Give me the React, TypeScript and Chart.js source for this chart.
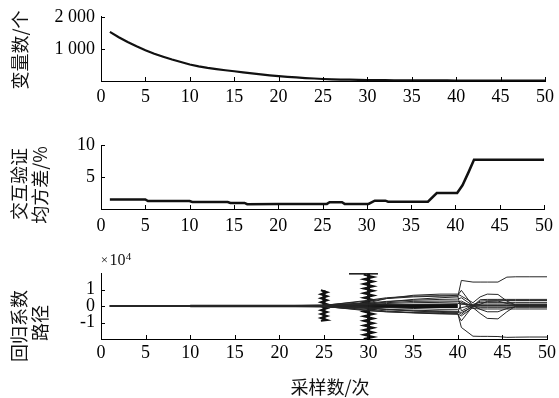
import React, { useEffect, useRef } from "react";
import { Chart, registerables } from "chart.js";
Chart.register(...registerables);

// ---------- shared axis ----------
const X_MIN = 0;
const X_MAX = 50;
const X_STEP = 5;

// ---------- panel 1: number of variables ----------
const VAR_X = [1,2,3,4,5,6,7,8,9,10,11,12,13,14,15,16,17,18,19,20,21,22,23,24,25,26,27,28,29,30,31,32,33,34,35,36,37,38,39,40,41,42,43,44,45,46,47,48,49,50];
const VAR_COUNT = [1530,1365,1215,1080,955,850,757,670,590,515,458,410,370,335,303,268,235,205,176,150,128,110,92,78,62,52,45,40,35,30,28,26,24,22,21,20,19,18,17,16,15,14,14,13,13,12,12,11,11,10];
const VAR_Y_TICKS = [1000, 2000];
const VAR_Y_LABELS = ["1 000", "2 000"];

// ---------- panel 2: cross-validation MSE (%) ----------
const MSE_X = [1,5,5.3,10,10.3,14.3,14.6,16.2,16.5,20,25.5,25.8,27.2,27.5,30.2,30.9,32.1,32.4,36.9,37.9,40.2,40.8,41.5,42.1,50];
const MSE_Y = [1.5,1.5,1.25,1.25,1.1,1.1,0.95,0.95,0.75,0.8,0.8,1.05,1.05,0.8,0.8,1.3,1.3,1.15,1.15,2.5,2.5,3.7,5.8,7.7,7.7];
const MSE_Y_TICKS = [5, 10];
const MSE_Y_LABELS = ["5", "10"];

// ---------- panel 3: regression coefficient paths (x10^4) ----------
const PATH_X = [1,5,10,12,15,20,25,30,32,35,38,40,40.4,41.7,42.5,43.3,44.5,45.5,46.5,48,50];
const PATH_A = [0,0,0,0,0,0.01,0.03,0.1,0.25,0.4,0.5,0.55,1.55,1.45,1.45,1.45,1.45,1.75,1.77,1.77,1.77];
const PATH_B = [0,0,0,0,0,-0.01,-0.03,-0.1,-0.2,-0.3,-0.38,-0.45,-1.3,-1.83,-1.84,-1.84,-1.85,-1.9,-1.89,-1.88,-1.88];
const PATH_C = [0,0,0,0.01,0.01,0.02,0.05,0.2,0.45,0.65,0.72,0.72,0.6,0.2,0.55,0.72,0.7,0.3,0.05,0.05,0.05];
const PATH_D = [0,0,0,-0.01,-0.01,-0.02,-0.05,-0.2,-0.3,-0.4,-0.45,-0.48,-0.6,-0.1,-0.45,-0.75,-0.78,-0.35,0,0,0];
const PATH_E = [0,0,0,0,0,0.01,0.05,0.3,0.45,0.55,0.6,0.65,0.95,0,0.38,0.4,0.4,0.4,0.4,0.4,0.4];
const PATH_F = [0,0,0,0,0,-0.01,-0.04,-0.25,-0.35,-0.42,-0.48,-0.5,-0.9,0,0.3,0.32,0.32,0.33,0.33,0.33,0.33];
const PATH_G = [0,0,0,0.02,0.01,0.01,0.03,0.15,0.2,0.28,0.3,0.3,0.1,0.1,0.22,0.22,0.22,0.22,0.22,0.22,0.22];
const PATH_H = [0,0,0.03,0,0.01,0.01,0.02,-0.05,-0.1,-0.15,-0.2,-0.2,-0.1,0.05,0.12,0.12,0.12,0.12,0.12,0.12,0.12];
const PATH_I = [0,0,-0.02,0,-0.02,-0.01,-0.03,-0.15,-0.2,-0.25,-0.3,-0.32,-0.4,-0.05,0.02,0.02,0.02,0.02,0.02,0.02,0.02];
const PATH_J = [0,0,0,0,0,0.01,0.02,0.1,0.15,0.2,0.22,0.25,0.3,-0.05,-0.08,-0.08,-0.08,-0.08,-0.08,-0.08,-0.08];
const PATH_K = [0,0,0,0,0,-0.01,-0.02,-0.3,-0.35,-0.4,-0.42,-0.4,0.2,-0.15,-0.18,-0.18,-0.18,-0.18,-0.18,-0.18,-0.18];
const PATH_L = [0,0,0,0,0,0.01,0.03,0.35,0.5,0.6,0.62,0.6,-0.3,0.05,0.05,0.05,0.05,0.05,0.05,0.05,0.05];
const PATH_M = [0,0,0,0,0,0.01,0.02,0.18,0.28,0.35,0.4,0.42,0.5,0.02,0.1,0.28,0.3,0.15,0.08,0.08,0.08];
const PATH_N = [0,0,0,0,0,-0.01,-0.02,-0.12,-0.22,-0.3,-0.33,-0.36,-0.5,0.02,-0.2,-0.35,-0.35,-0.15,-0.04,-0.04,-0.04];
const PATH_O = [0,0,0,0,0,0.01,0.01,0.05,0.08,0.1,0.12,0.14,0.2,0.0,0.0,0.0,0.0,0.0,0.0,0.0,0.0];
const PATH_SERIES = [PATH_A, PATH_B, PATH_C, PATH_D, PATH_E, PATH_F, PATH_G, PATH_H, PATH_I, PATH_J, PATH_K, PATH_L, PATH_M, PATH_N, PATH_O];

// dense overlapping paths near zero (drawn as a thick core)
const CORE1_X = [1, 10];
const CORE1_Y = [0, 0];
const CORE2_X = [10, 30];
const CORE2_Y = [0, 0];
const CORE3_X = [30, 40];
const CORE3_Y = [0, 0];

const COMB25_X = [24.65,25.35,24.65,25.35,24.65,25.35,24.65,25.35,24.65,25.35,24.65,25.35,24.65,25.35,24.65,25.35,24.65];
const COMB25_Y = [0.95,0.83,0.71,0.59,0.47,0.35,0.23,0.11,-0.01,-0.13,-0.25,-0.37,-0.49,-0.61,-0.73,-0.85,-0.9];
const STEM25_X = [25, 25];
const STEM25_Y = [0.95, -0.9];
const COMB30_X = [29.45,30.55,29.45,30.55,29.45,30.55,29.45,30.55,29.45,30.55,29.45,30.55,29.45,30.55,29.45,30.55,29.45,30.55,29.45,30.55,29.45,30.55,29.45,30.55,29.45,30.55,29.45,30.55,29.45];
const COMB30_Y = [1.9,1.76,1.62,1.48,1.34,1.2,1.06,0.92,0.78,0.64,0.5,0.36,0.22,0.08,-0.06,-0.2,-0.34,-0.48,-0.62,-0.76,-0.9,-1.04,-1.18,-1.32,-1.46,-1.6,-1.74,-1.88,-2.0];
const STEM30_X = [30, 30];
const STEM30_Y = [1.95, -2.0];
const BAR30_X = [27.8, 31.05];
const BAR30_Y = [1.95, 1.95];
const COEF_Y_TICKS = [-1, 0, 1];
const COEF_Y_LABELS = ["-1", "0", "1"];

// ---------- styling ----------
const W = 559;
const SERIF = '"Liberation Serif", "Times New Roman", serif';
const CJK = '"Noto Sans CJK SC", sans-serif';
const TICK_FONT = { family: SERIF, size: 18 };

const pts = (xs: number[], ys: number[]) => xs.map((x, i) => ({ x, y: ys[i] }));

type TextItem = { text: string; x: number; y: number; font: string; rotate?: boolean; align?: CanvasTextAlign };

const makeTextPlugin = (items: TextItem[]) => ({
  id: "panelText",
  afterDraw(chart: any) {
    const ctx = chart.ctx;
    ctx.save();
    ctx.fillStyle = "#111";
    for (const it of items) {
      ctx.save();
      ctx.font = it.font;
      ctx.textAlign = it.align || "center";
      ctx.textBaseline = "middle";
      ctx.translate(it.x, it.y);
      if (it.rotate) ctx.rotate(-Math.PI / 2);
      ctx.fillText(it.text, 0, 0);
      ctx.restore();
    }
    ctx.restore();
  },
});

const innerTicks = {
  id: "innerTicks",
  afterDraw(chart: any) {
    const { ctx, chartArea } = chart;
    const xs = chart.scales.x;
    const ys = chart.scales.y;
    ctx.save();
    ctx.strokeStyle = "#000";
    ctx.lineWidth = 1;
    ctx.beginPath();
    xs.ticks.forEach((t: any) => {
      const px = Math.round(xs.getPixelForValue(t.value)) + 0.5;
      ctx.moveTo(px, chartArea.bottom);
      ctx.lineTo(px, chartArea.bottom - 4);
    });
    ys.ticks.forEach((t: any) => {
      const py = Math.round(ys.getPixelForValue(t.value)) + 0.5;
      ctx.moveTo(chartArea.left, py);
      ctx.lineTo(chartArea.left + 4, py);
    });
    ctx.stroke();
    ctx.restore();
  },
};

function makeOptions(o: {
  padTop: number;
  xHeight: number;
  xPad: number;
  yMin: number;
  yMax: number;
  yTicks: number[];
  yLabels: string[];
}) {
  return {
    responsive: false,
    maintainAspectRatio: false,
    animation: false,
    layout: { padding: { top: o.padTop, right: W - 547, left: 0, bottom: 0 } },
    plugins: { legend: { display: false }, tooltip: { enabled: false } },
    elements: { point: { radius: 0 }, line: { tension: 0 } },
    scales: {
      x: {
        type: "linear",
        min: X_MIN,
        max: X_MAX,
        ticks: { stepSize: X_STEP, font: TICK_FONT, color: "#000", padding: o.xPad, maxRotation: 0, autoSkip: false },
        grid: { display: false, drawTicks: false },
        border: { display: true, color: "#000", width: 1 },
        afterFit: (s: any) => {
          s.height = o.xHeight;
        },
      },
      y: {
        type: "linear",
        min: o.yMin,
        max: o.yMax,
        afterBuildTicks: (s: any) => {
          s.ticks = o.yTicks.map((v) => ({ value: v }));
        },
        ticks: {
          font: TICK_FONT,
          color: "#000",
          padding: 6,
          callback: (_v: any, i: number) => o.yLabels[i],
        },
        grid: { display: false, drawTicks: false },
        border: { display: true, color: "#000", width: 1 },
        afterFit: (s: any) => {
          s.width = 101;
        },
      },
    },
  };
}

const line = (xs: number[], ys: number[], width: number, color = "#111") => ({
  data: pts(xs, ys),
  borderColor: color,
  borderWidth: width,
  pointRadius: 0,
  fill: false,
});

export default function App() {
  const c1 = useRef<HTMLCanvasElement>(null);
  const c2 = useRef<HTMLCanvasElement>(null);
  const c3 = useRef<HTMLCanvasElement>(null);

  useEffect(() => {
    const charts: Chart[] = [];
    const cjk18 = `18px ${CJK}`;

    charts.push(
      new Chart(c1.current!, {
        type: "line",
        data: { datasets: [line(VAR_X, VAR_COUNT, 2.2)] },
        options: makeOptions({ padTop: 15, xHeight: 110 - 81, xPad: 5, yMin: 0, yMax: 2000, yTicks: VAR_Y_TICKS, yLabels: VAR_Y_LABELS }) as any,
        plugins: [innerTicks, makeTextPlugin([{ text: "变量数/个", x: 20, y: 50, font: cjk18, rotate: true }])],
      })
    );

    charts.push(
      new Chart(c2.current!, {
        type: "line",
        data: { datasets: [line(MSE_X, MSE_Y, 2.5)] },
        options: makeOptions({ padTop: 25, xHeight: 125 - 89, xPad: 6, yMin: 0, yMax: 10, yTicks: MSE_Y_TICKS, yLabels: MSE_Y_LABELS }) as any,
        plugins: [
          innerTicks,
          makeTextPlugin([
            { text: "交互验证", x: 19, y: 64, font: cjk18, rotate: true },
            { text: "均方差/%", x: 40, y: 65, font: cjk18, rotate: true },
          ]),
        ],
      })
    );

    charts.push(
      new Chart(c3.current!, {
        type: "line",
        data: {
          datasets: [
            ...PATH_SERIES.map((s) => line(PATH_X, s, 1, "#262626")),
            line(CORE1_X, CORE1_Y, 1.5),
            line(CORE2_X, CORE2_Y, 2.5),
            line(CORE3_X, CORE3_Y, 4),
            line(COMB25_X, COMB25_Y, 2),
            line(STEM25_X, STEM25_Y, 3),
            line(COMB30_X, COMB30_Y, 2),
            line(STEM30_X, STEM30_Y, 3),
            line(BAR30_X, BAR30_Y, 1.5),
          ],
        },
        options: makeOptions({ padTop: 28, xHeight: 153 - 94, xPad: 3, yMin: -2, yMax: 2, yTicks: COEF_Y_TICKS, yLabels: COEF_Y_LABELS }) as any,
        plugins: [
          innerTicks,
          makeTextPlugin([
            { text: "回归系数", x: 19.5, y: 81, font: cjk18, rotate: true },
            { text: "路径", x: 40.5, y: 78, font: cjk18, rotate: true },
            { text: "采样数/次", x: 330, y: 142, font: cjk18 },
            { text: "×", x: 104.5, y: 16, font: `13px ${SERIF}` },
            { text: "10", x: 117.5, y: 16, font: `16px ${SERIF}` },
            { text: "4", x: 128.5, y: 12, font: `11px ${SERIF}` },
          ]),
        ],
      })
    );

    return () => charts.forEach((c) => c.destroy());
  }, []);

  const cs = (top: number, h: number): React.CSSProperties => ({
    position: "absolute",
    left: 0,
    top,
    width: W,
    height: h,
  });

  return (
    <div style={{ position: "absolute", left: 0, top: 0, width: W, height: 398, background: "#fff" }}>
      <canvas ref={c1} width={W} height={110} style={cs(0, 110)} />
      <canvas ref={c2} width={W} height={125} style={cs(120, 125)} />
      <canvas ref={c3} width={W} height={153} style={cs(245, 153)} />
    </div>
  );
}
